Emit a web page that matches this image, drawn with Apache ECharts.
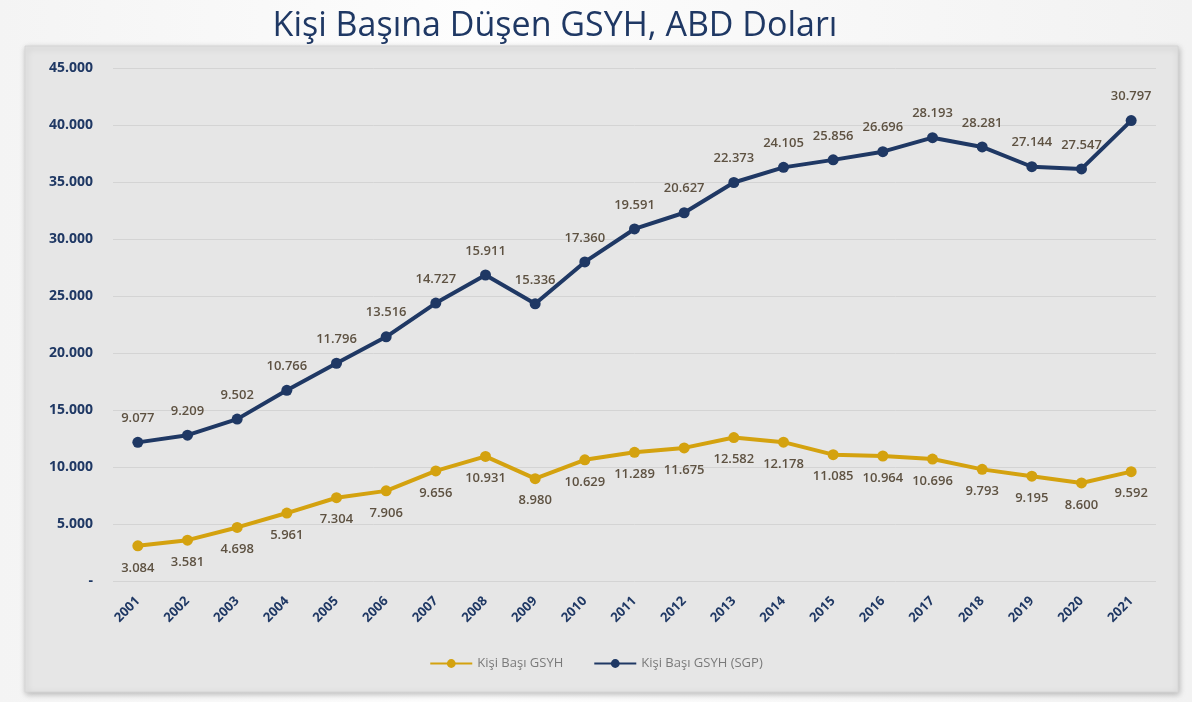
<!DOCTYPE html>
<html><head><meta charset="utf-8">
<script src="https://cdn.jsdelivr.net/npm/echarts@6/dist/echarts.min.js"></script>
<style>
html,body{margin:0;padding:0;}
body{width:1192px;height:702px;background:linear-gradient(90deg,#f4f4f4 0%,#fdfdfd 40%,#f2f2f2 100%);}
#c{width:1192px;height:702px;}
</style></head>
<body><div id="c"></div>
<script>
const years = ['2001','2002','2003','2004','2005','2006','2007','2008','2009','2010','2011','2012','2013','2014','2015','2016','2017','2018','2019','2020','2021'];
const gsyh = [3084,3581,4698,5961,7304,7906,9656,10931,8980,10629,11289,11675,12582,12178,11085,10964,10696,9793,9195,8600,9592];
const gsyhSGP = [9077,9209,9502,10766,11796,13516,14727,15911,15336,17360,19591,20627,22373,24105,25856,26696,28193,28281,27144,27547,30797];
const seriesNames = ['Kişi Başı GSYH','Kişi Başı GSYH (SGP)'];
const titleText = 'Kişi Başına Düşen GSYH, ABD Doları';

function fmt(v){ if(v===0) return '-'; return String(Math.round(v)).replace(/\B(?=(\d{3})+(?!\d))/g,'.'); }

const gold = '#d4a20f', navy = '#1f3864';
const F = '"Open Sans",sans-serif';
const chart = echarts.init(document.getElementById('c'));
chart.setOption({
  animation:false,
  title:{text:titleText,left:550,top:4,textAlign:'center',textStyle:{fontFamily:F,fontSize:34,fontWeight:500,color:navy}},
  graphic:[{type:'rect',z:-10,shape:{x:25,y:46,width:1153,height:646},style:{fill:'#e6e6e6',stroke:'#d6d6d6',lineWidth:1,shadowBlur:6,shadowColor:'rgba(0,0,0,0.25)',shadowOffsetX:1,shadowOffsetY:2}}],
  grid:{left:113,right:36,top:68,bottom:121},
  legend:{bottom:27,left:'center',itemGap:30,itemWidth:42,itemHeight:11,textStyle:{color:'#7a7a7a',fontSize:13,fontFamily:F},data:seriesNames},
  xAxis:{type:'category',data:years,boundaryGap:true,axisLine:{show:false},axisTick:{show:false},
    axisLabel:{rotate:45,color:navy,fontWeight:'bold',fontSize:13,margin:18,fontFamily:F}},
  yAxis:{type:'value',min:0,max:45000,interval:5000,axisLine:{show:false},axisTick:{show:false},
    splitLine:{lineStyle:{color:'#d4d4d4',width:1}},
    axisLabel:{color:navy,fontWeight:'bold',fontSize:14,margin:20,formatter:fmt,fontFamily:F}},
  series:[
    {name:seriesNames[0],type:'line',stack:'t',data:gsyh,symbol:'circle',symbolSize:11,itemStyle:{color:gold},lineStyle:{color:gold,width:4},
     label:{show:true,position:'bottom',distance:10,color:'#5e5242',fontWeight:600,fontSize:13,fontFamily:F,formatter:p=>fmt(p.value)}},
    {name:seriesNames[1],type:'line',stack:'t',data:gsyhSGP,symbol:'circle',symbolSize:11,itemStyle:{color:navy},lineStyle:{color:navy,width:4},
     label:{show:true,position:'top',distance:12,color:'#5e5242',fontWeight:600,fontSize:13,fontFamily:F,formatter:p=>fmt(p.value)}}
  ]
});
</script></body></html>
